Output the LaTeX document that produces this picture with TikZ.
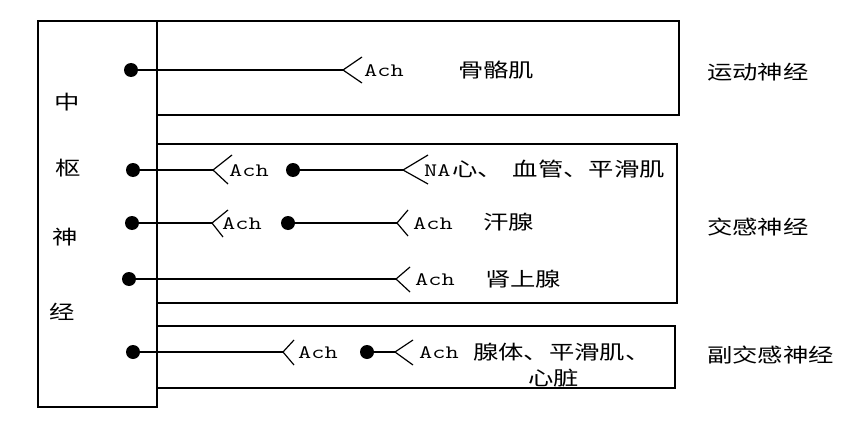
\documentclass[tikz,border=0pt]{standalone}
\usepackage{fontspec}
\newfontfamily\cjk[FakeStretch=1.3]{Noto Sans CJK SC}
\newcommand\mytt[1]{\scalebox{1.35}[1]{#1}}
\begin{document}
\begin{tikzpicture}[x=1pt,y=-1pt,
  ln/.style={line width=1.2pt,black},
  dotn/.style={circle,fill=black,inner sep=0pt,minimum size=14pt},
  cj/.style={inner sep=0pt,anchor=west,font=\cjk\fontsize{19.5}{20}\selectfont},
  cjc/.style={inner sep=0pt,font=\cjk\fontsize{19.5}{20}\selectfont},
  mo/.style={inner sep=0pt,anchor=west,font=\ttfamily\fontsize{19}{19}\selectfont}]
\useasboundingbox (0,0) rectangle (862,444);
\fill[white] (0,0) rectangle (862,444);
% boxes
\draw[ln] (38,21) rectangle (157,407);
\draw[ln] (157,21) -- (679,21) -- (679,115) -- (157,115);
\draw[ln] (157,144) -- (677,144) -- (677,303) -- (157,303);
\draw[ln] (157,326) -- (675,326) -- (675,388) -- (157,388);
% central labels
\node[cjc] (c1) at (67,102) {中};
\node[cjc] (c2) at (68,168) {枢};
\node[cjc] (c3) at (65,237) {神};
\node[cjc] (c4) at (62,312) {经};
% right labels
\node[cj] (r1) at (707,72) {运动神经};
\node[cj] (r2) at (707,227) {交感神经};
\node[cj] (r3) at (707,355) {副交感神经};
% motor
\node[dotn] (m0) at (131,70) {};
\coordinate (mf) at (343,70);
\draw[ln] (m0) -- (mf);
\draw[ln] (362,57) -- (mf) -- (362,83);
\node[mo] (ma) at (364,71) {\mytt{Ach}};
\node[cj] (mt) at (458,70) {骨骼肌};
% sympathetic row 1
\node[dotn] (s10) at (133,170) {};
\coordinate (s1f) at (213,170);
\draw[ln] (s10) -- (s1f);
\draw[ln] (232,155) -- (s1f) -- (228,184);
\node[mo] (s1a) at (229,171) {\mytt{Ach}};
\node[dotn] (s11) at (293,170) {};
\coordinate (s1g) at (403,170);
\draw[ln] (s11) -- (s1g);
\draw[ln] (428,155) -- (s1g) -- (428,184);
\node[mo] (s1n) at (424,171) {\mytt{NA}};
\node[cj] (s1t) at (452,169) {心、\kern10pt 血管、平滑肌};
% sympathetic row 2
\node[dotn] (s20) at (132,223) {};
\coordinate (s2f) at (212,223);
\draw[ln] (s20) -- (s2f);
\draw[ln] (228,210) -- (s2f) -- (223,237);
\node[mo] (s2a) at (222,224) {\mytt{Ach}};
\node[dotn] (s21) at (288,223) {};
\coordinate (s2g) at (397,223);
\draw[ln] (s21) -- (s2g);
\draw[ln] (408,210) -- (s2g) -- (408,236);
\node[mo] (s2b) at (413,224) {\mytt{Ach}};
\node[cj] (s2t) at (483,222) {汗腺};
% sympathetic row 3
\node[dotn] (s30) at (129,279) {};
\coordinate (s3f) at (396,279);
\draw[ln] (s30) -- (s3f);
\draw[ln] (410,267) -- (s3f) -- (410,292);
\node[mo] (s3a) at (415,280) {\mytt{Ach}};
\node[cj] (s3t) at (485,279) {肾上腺};
% parasympathetic
\node[dotn] (p0) at (133,352) {};
\coordinate (pf) at (283,352);
\draw[ln] (p0) -- (pf);
\draw[ln] (294,340) -- (pf) -- (294,365);
\node[mo] (pa) at (298,353) {\mytt{Ach}};
\node[dotn] (p1) at (367,352) {};
\coordinate (pg) at (395,352);
\draw[ln] (p1) -- (pg);
\draw[ln] (413,340) -- (pg) -- (413,365);
\node[mo] (pb) at (419,353) {\mytt{Ach}};
\node[cj] (pt) at (473,352) {腺体、平滑肌、};
\node[cj] (pt2) at (528,378) {心脏};
\end{tikzpicture}
\end{document}
